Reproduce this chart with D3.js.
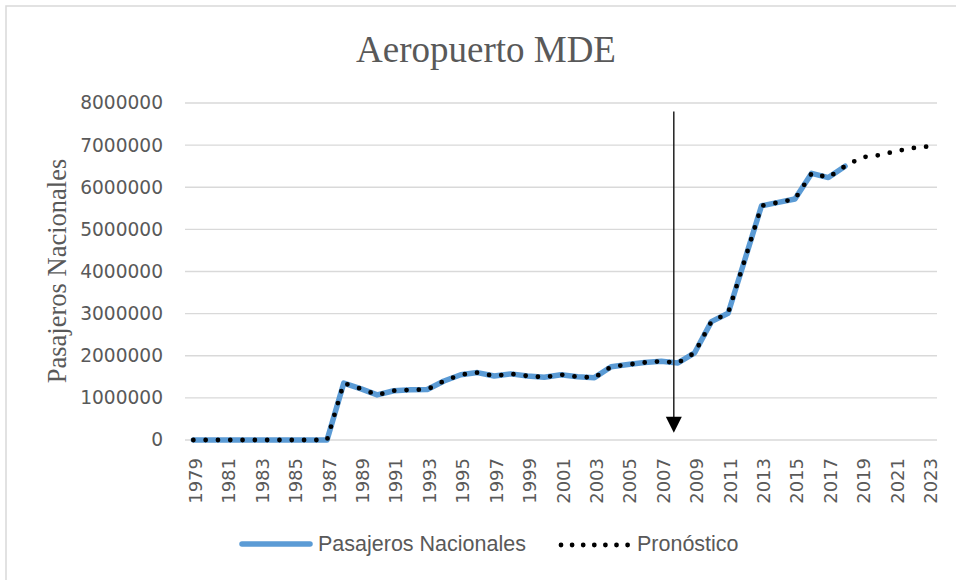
<!DOCTYPE html>
<html>
<head>
<meta charset="utf-8">
<script src="https://cdn.jsdelivr.net/npm/d3@7"></script>
<style>
  html, body { margin: 0; padding: 0; background: #fff; }
  svg { display: block; }
</style>
</head>
<body>
<svg id="chart" width="956" height="580"></svg>
<script>
// ---- data ----
const years = d3.range(1979, 2024);            // categories 1979..2023
const histYears = d3.range(1979, 2019);        // 1979..2018
const pasajeros = [
  0, 0, 0, 0, 0, 0, 0, 0, 0,                   // 1979-1987
  1350000, 1220000, 1070000, 1170000, 1190000, // 1988-1992
  1200000, 1400000, 1550000, 1600000, 1520000, // 1993-1997
  1570000, 1520000, 1490000, 1550000, 1500000, // 1998-2002
  1480000, 1740000, 1790000, 1840000, 1870000, // 2003-2007
  1830000, 2070000, 2810000, 3010000, 4280000, // 2008-2012
  5560000, 5640000, 5720000, 6330000, 6230000, // 2013-2017
  6500000                                      // 2018
];
const forecastYears = [2019, 2020, 2021, 2022, 2023];
const pronostico = [6710000, 6760000, 6850000, 6930000, 6970000];
const yTicks = [0, 1000000, 2000000, 3000000, 4000000, 5000000, 6000000, 7000000, 8000000];
const xTickYears = years.filter((y, i) => i % 2 === 0);
const arrowAnnotation = { year: 2007.75, from: 7800000, to: 170000 };
const titleText = "Aeropuerto MDE";
const yTitle = "Pasajeros Nacionales";
const seriesNames = ["Pasajeros Nacionales", "Pronóstico"];

// ---- build ----
const svg = d3.select("#chart");
const plot = { left: 185, right: 937, top: 103, bottom: 440 };
const gray = "#595959";
const blue = "#5b9bd5";

const x = d3.scaleLinear().domain([1978.5, 2023.5]).range([plot.left, plot.right]);
const y = d3.scaleLinear().domain([0, 8000000]).range([plot.bottom, plot.top]);

// chart border
svg.append("rect").attr("x", 6).attr("y", 6).attr("width", 980).attr("height", 600)
  .attr("fill", "none").attr("stroke", "#d9d9d9").attr("stroke-width", 1.5);

// title
svg.append("text").attr("x", 486).attr("y", 62)
  .attr("text-anchor", "middle")
  .style("font-family", "'Liberation Serif', 'Times New Roman', serif")
  .style("font-size", "37px").attr("fill", gray).text(titleText);

// gridlines
svg.append("g").selectAll("line").data(yTicks).join("line")
  .attr("x1", plot.left).attr("x2", plot.right)
  .attr("y1", d => y(d)).attr("y2", d => y(d))
  .attr("stroke", "#d9d9d9").attr("stroke-width", 1.3);

// y axis labels
const yAxis = d3.axisLeft(y).tickValues(yTicks).tickFormat(d3.format("d")).tickSize(0).tickPadding(0);
const yg = svg.append("g").attr("transform", `translate(163,0)`).call(yAxis);
yg.select(".domain").remove();
yg.selectAll("text")
  .style("font-family", "'DejaVu Sans', sans-serif").style("font-size", "18.6px")
  .attr("fill", gray);

// x axis labels
const xAxis = d3.axisBottom(x).tickValues(xTickYears).tickFormat(d3.format("d")).tickSize(0);
const xg = svg.append("g").attr("transform", `translate(0,${plot.bottom})`).call(xAxis);
xg.select(".domain").remove();
xg.selectAll("text")
  .style("font-family", "'DejaVu Sans', sans-serif").style("font-size", "18px")
  .attr("fill", gray)
  .attr("text-anchor", "end")
  .attr("dy", null).attr("y", 0)
  .attr("transform", d => `translate(8,18) rotate(-90)`);

// y axis title
svg.append("text")
  .attr("transform", "translate(66,271) rotate(-90)")
  .attr("text-anchor", "middle")
  .style("font-family", "'Liberation Serif', 'Times New Roman', serif")
  .style("font-size", "26.5px").attr("fill", gray).text(yTitle);

// series
const histData = histYears.map((yr, i) => ({ year: yr, value: pasajeros[i] }));
const allData = histData.concat(forecastYears.map((yr, i) => ({ year: yr, value: pronostico[i] })));
const line = d3.line().x(d => x(d.year)).y(d => y(d.value));

svg.append("path").datum(histData).attr("d", line)
  .attr("fill", "none").attr("stroke", blue).attr("stroke-width", 5.5)
  .attr("stroke-linejoin", "round").attr("stroke-linecap", "round");

svg.append("path").datum(allData).attr("d", line)
  .attr("fill", "none").attr("stroke", "#000").attr("stroke-width", 4.8)
  .attr("stroke-dasharray", "0 12.3").attr("stroke-linecap", "round")
  .attr("stroke-linejoin", "round");

// arrow annotation
const ax = x(arrowAnnotation.year);
const yFrom = y(arrowAnnotation.from), yTo = y(arrowAnnotation.to);
svg.append("line").attr("x1", ax).attr("x2", ax).attr("y1", yFrom).attr("y2", yTo - 14)
  .attr("stroke", "#222").attr("stroke-width", 1.5);
svg.append("path")
  .attr("d", `M${ax - 8},${yTo - 16} L${ax + 8},${yTo - 16} L${ax},${yTo} Z`)
  .attr("fill", "#000");

// legend
const lg = svg.append("g");
lg.append("line").attr("x1", 242).attr("x2", 310).attr("y1", 544).attr("y2", 544)
  .attr("stroke", blue).attr("stroke-width", 5.5).attr("stroke-linecap", "round");
lg.append("text").attr("x", 318).attr("y", 551)
  .style("font-family", "'Liberation Sans', Arial, sans-serif").style("font-size", "21.5px")
  .attr("fill", gray).text(seriesNames[0]);
lg.append("line").attr("x1", 561).attr("x2", 628).attr("y1", 545).attr("y2", 545)
  .attr("stroke", "#000").attr("stroke-width", 4.8).attr("stroke-linecap", "round")
  .attr("stroke-dasharray", "0 11.1");
lg.append("text").attr("x", 637).attr("y", 551)
  .style("font-family", "'Liberation Sans', Arial, sans-serif").style("font-size", "21.5px")
  .attr("fill", gray).text(seriesNames[1]);
</script>
</body>
</html>
